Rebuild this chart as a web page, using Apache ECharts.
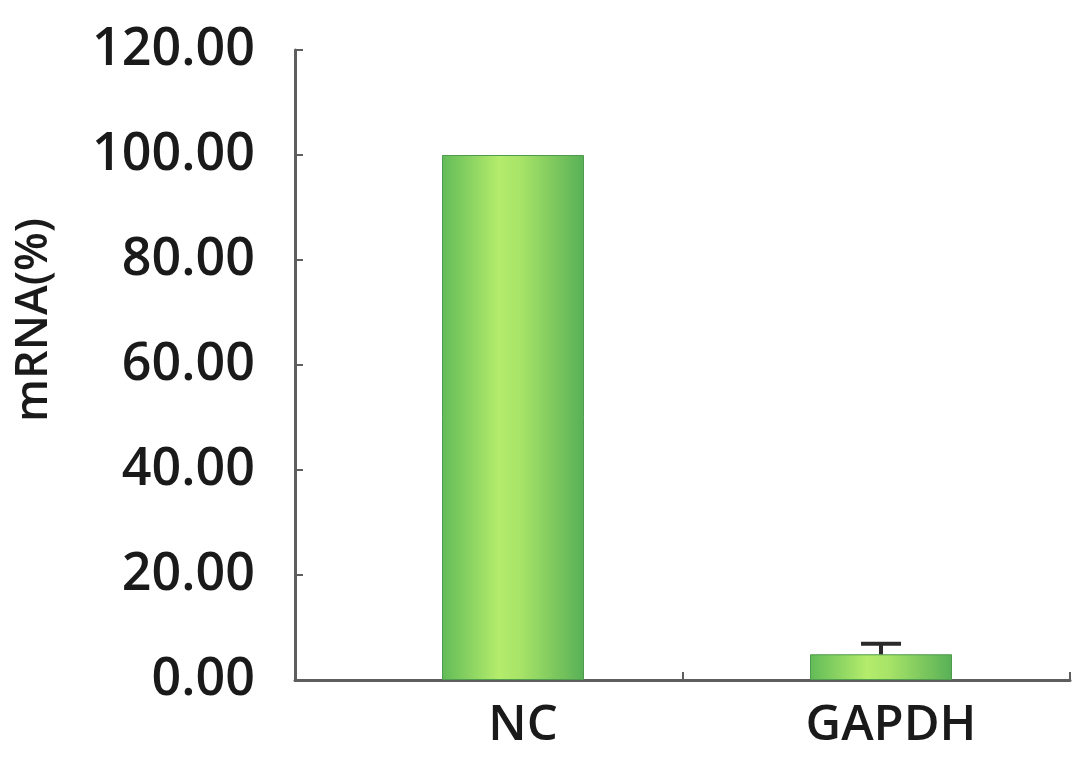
<!DOCTYPE html>
<html>
<head>
<meta charset="utf-8">
<script src="https://cdn.jsdelivr.net/npm/echarts@6/dist/echarts.min.js"></script>
<style>
html,body{margin:0;padding:0;background:#fff;}
#chart{width:1080px;height:769px;}
</style>
</head>
<body>
<div id="chart"></div>
<script>
const categories = ['NC', 'GAPDH'];
const values = [100, 4.9];
const errors = [0, 2.0];
const yTicks = [0, 20, 40, 60, 80, 100, 120];

const FONT = '"Open Sans", "DejaVu Sans", sans-serif';
const AXIS_COLOR = '#5e5e5e';

const chart = echarts.init(document.getElementById('chart'));

const barGradient = new echarts.graphic.LinearGradient(0, 0, 1, 0, [
  { offset: 0, color: '#62bb58' },
  { offset: 0.4, color: '#b4ec6c' },
  { offset: 0.55, color: '#a8e468' },
  { offset: 1, color: '#58b056' }
]);

const option = {
  backgroundColor: '#ffffff',
  animation: false,
  grid: [
    { left: 295, right: 10, top: 50, bottom: 89 },
    { left: 329, right: 15, top: 50, bottom: 89 }
  ],
  xAxis: [
    {
      type: 'category', gridIndex: 0, data: categories,
      boundaryGap: true,
      axisLine: { lineStyle: { color: AXIS_COLOR, width: 3 } },
      axisTick: { show: true, inside: true, length: 8, alignWithLabel: false, lineStyle: { color: AXIS_COLOR, width: 2 } },
      axisLabel: { show: false }
    },
    {
      type: 'category', gridIndex: 1, data: categories,
      boundaryGap: true,
      axisLine: { show: false },
      axisTick: { show: false },
      axisLabel: { show: true, color: '#1a1a1a', fontFamily: FONT, fontWeight: 600, fontSize: 49, margin: 22, padding: [0, 0, 0, 20] }
    }
  ],
  yAxis: [
    {
      type: 'value', gridIndex: 0, min: yTicks[0], max: yTicks[yTicks.length - 1], interval: 20,
      name: 'mRNA(%)', nameLocation: 'middle', nameRotate: 90, nameGap: 238,
      nameTextStyle: { color: '#1a1a1a', fontFamily: FONT, fontWeight: 600, fontSize: 45, padding: [0, 0, 0, 90] },
      axisLine: { show: true, lineStyle: { color: AXIS_COLOR, width: 3 } },
      axisTick: { show: true, inside: true, length: 8, lineStyle: { color: AXIS_COLOR, width: 2 } },
      splitLine: { show: false },
      axisLabel: {
        color: '#1a1a1a', fontFamily: FONT, fontWeight: 600, fontSize: 52, margin: 40,
        formatter: v => v.toFixed(2)
      }
    },
    {
      type: 'value', gridIndex: 1, min: yTicks[0], max: yTicks[yTicks.length - 1], interval: 20,
      show: false
    }
  ],
  series: [
    {
      type: 'bar', xAxisIndex: 1, yAxisIndex: 1,
      data: values, barWidth: 142,
      itemStyle: { color: barGradient, borderColor: '#4f9a4c', borderWidth: 1 }
    },
    {
      type: 'custom', xAxisIndex: 1, yAxisIndex: 1,
      data: categories.map((c, i) => [i, values[i], values[i] + errors[i]]),
      z: 5,
      renderItem: function (params, api) {
        const i = api.value(0);
        if (api.value(2) <= api.value(1)) return null;
        const top = api.coord([i, api.value(2)]);
        const base = api.coord([i, api.value(1)]);
        const hw = 20;
        return {
          type: 'group',
          children: [
            { type: 'line', shape: { x1: top[0], y1: top[1], x2: base[0], y2: base[1] }, style: { stroke: '#2a2a2a', lineWidth: 4 } },
            { type: 'line', shape: { x1: top[0] - hw, y1: top[1], x2: top[0] + hw, y2: top[1] }, style: { stroke: '#2a2a2a', lineWidth: 4 } }
          ]
        };
      }
    }
  ]
};
chart.setOption(option);
</script>
</body>
</html>
